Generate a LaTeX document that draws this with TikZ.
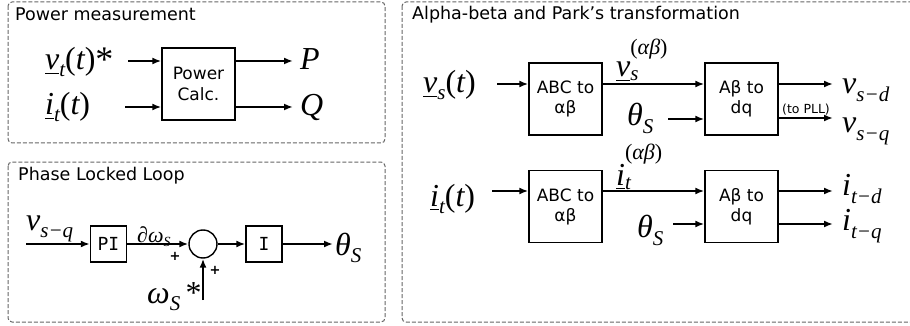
\documentclass[tikz,border=0pt]{standalone}
\usepackage{fontspec}
\setmainfont{DejaVu Sans}
\newfontfamily\tms{Liberation Serif}
\newfontfamily\mono{DejaVu Sans Mono}
\usetikzlibrary{arrows.meta}
\newcommand\mf{\tms\itshape\fontsize{32}{32}\selectfont}
\newcommand\sbs[2][7pt]{\raisebox{-#1}{\fontsize{21}{21}\selectfont #2}}
\newcommand\sps[2][19pt]{\raisebox{#1}{\fontsize{22}{22}\selectfont #2}}
\newcommand\up[1]{{\upshape #1}}
\newcommand\ul[1]{\setbox0\hbox{#1}\rlap{\rule[-4pt]{\wd0}{1.4pt}}\box0}
\begin{document}
\begin{tikzpicture}[x=1pt,y=-1pt,
  frame/.style={draw=black!60, line width=1pt, dash pattern=on 4pt off 2pt, rounded corners=4pt},
  blk/.style={draw, line width=1.4pt, align=center, font=\fontsize{17}{20}\selectfont, inner sep=0pt, minimum width=73pt, minimum height=72pt},
  mblk/.style={draw, line width=1.4pt, font=\mono\fontsize{18}{18}\selectfont, inner sep=0pt, minimum width=36pt, minimum height=36pt},
  arr/.style={line width=1.8pt, -{Latex[length=9pt,width=7pt]}},
  ttl/.style={anchor=base west, font=\fontsize{17.5}{20}\selectfont, inner sep=0pt},
  lbl/.style={anchor=base west, inner sep=0pt, font=\mf},
  pls/.style={inner sep=0pt, font=\bfseries\fontsize{13}{13}\selectfont},
]
\useasboundingbox (0,0) rectangle (910,326);
% frames
\draw[frame] (8,2) rectangle (385,143);
\draw[frame] (8,162) rectangle (385,322);
\draw[frame] (402,2) rectangle (918,322);
\node[ttl] (t1) at (15,21) {Power measurement};
\node[ttl] (t2) at (18,180) {Phase Locked Loop};
\node[ttl] (t3) at (412,20) {Alpha-beta and Park’s transformation};
% power measurement
\node[blk, font=\fontsize{17}{21}\selectfont] (pc) at (198.5,84) {Power\\Calc.};
\coordinate (pin1) at (128,61);
\coordinate (pin2) at (125,107);
\coordinate (pout1) at (293,61);
\coordinate (pout2) at (293,107);
\draw[arr] (pin1) -- (pin1 -| pc.west);
\draw[arr] (pin2) -- (pin2 -| pc.west);
\draw[arr] (pout1 -| pc.east) -- (pout1);
\draw[arr] (pout2 -| pc.east) -- (pout2);
\node[lbl] (lv) at (45,70) {\ul{v}\sbs{t}\up{(}t\up{)}\raisebox{-2pt}{\up{\fontsize{36}{36}\selectfont*}}};
\node[lbl] (li) at (45,115) {\ul{i}\sbs{t}\up{(}t\up{)}};
\node[lbl] (lP) at (300,70) {P};
\node[lbl] (lQ) at (300,116) {Q};
% PLL
\node[mblk] (pi) at (108.5,244) {PI};
\node[draw, circle, line width=1.4pt, minimum size=28pt, inner sep=0pt] (sum) at (203,244) {};
\node[mblk] (int) at (264,244) {I};
\coordinate (vin) at (26,244);
\coordinate (thout) at (333,244);
\coordinate (win) at (203,300);
\draw[arr] (vin) -- (pi.west);
\draw[arr] (pi.east) -- (sum.west);
\draw[arr] (sum.east) -- (int.west);
\draw[arr] (int.east) -- (thout);
\draw[arr] (win) -- (sum.south);
\node[lbl] (lvsq) at (26,230) {v\sbs{s−q}};
\node[lbl, font=\tms\itshape\fontsize{22}{22}\selectfont] (ldw) at (137,242) {∂ω\sbs[4pt]{\fontsize{14}{14}\selectfont S}};
\node[lbl] (lth) at (335,255) {θ\sbs{S}};
\node[lbl] (lw) at (147,303) {ω\sbs{S}\up{\,*}};
\node[pls] (p1) at (175,256) {+};
\node[pls] (p2) at (215,270) {+};
% alpha-beta / park
\node[blk] (abc1) at (565.5,99) {ABC to\\αβ};
\node[blk] (dq1) at (741.5,99) {Aβ to\\dq};
\node[blk] (abc2) at (565.5,206.5) {ABC to\\αβ};
\node[blk] (dq2) at (741.5,206.5) {Aβ to\\dq};
\coordinate (vsin) at (497,84);
\coordinate (th1) at (668,119);
\coordinate (vd) at (833,84);
\coordinate (vq) at (833,118);
\coordinate (itin) at (492,191);
\coordinate (th2) at (673,224);
\coordinate (id) at (833,191);
\coordinate (iq) at (833,224);
\draw[arr] (vsin) -- (vsin -| abc1.west);
\draw[arr] (abc1.east |- vsin) -- (dq1.west |- vsin);
\draw[arr] (th1) -- (th1 -| dq1.west);
\draw[arr] (vd -| dq1.east) -- (vd);
\draw[arr] (vq -| dq1.east) -- (vq);
\draw[arr] (itin) -- (itin -| abc2.west);
\draw[arr] (abc2.east |- itin) -- (dq2.west |- itin);
\draw[arr] (th2) -- (th2 -| dq2.west);
\draw[arr] (id -| dq2.east) -- (id);
\draw[arr] (iq -| dq2.east) -- (iq);
\node[lbl] (lvs) at (423,93) {\ul{v}\sbs{s}\up{(}t\up{)}};
\node[lbl] (lvab) at (616,77) {\ul{v}\rlap{\sbs[4pt]{s}}\sps[22pt]{\up{(}αβ\up{)}}};
\node[lbl] (lth1) at (627,125) {θ\sbs[9pt]{S}};
\node[lbl] (lvd) at (842,94) {v\sbs[8pt]{s−d}};
\node[lbl] (lvq) at (842,132) {v\sbs[8pt]{s−q}};
\node[inner sep=0pt, font=\fontsize{12.5}{12.5}\selectfont] (topll) at (806,110) {(to PLL)};
\node[lbl] (lit) at (430,206) {\ul{i}\sbs{t}\up{(}t\up{)}};
\node[lbl] (liab) at (616,185) {\ul{i}\rlap{\sbs[5pt]{t}}\sps[25pt]{\up{(}αβ\up{)}}};
\node[lbl] (lth2) at (637,237) {θ\sbs[8pt]{S}};
\node[lbl] (lid) at (842,195) {i\sbs[8pt]{t−d}};
\node[lbl] (liq) at (842,230) {i\sbs[8pt]{t−q}};
\end{tikzpicture}
\end{document}
